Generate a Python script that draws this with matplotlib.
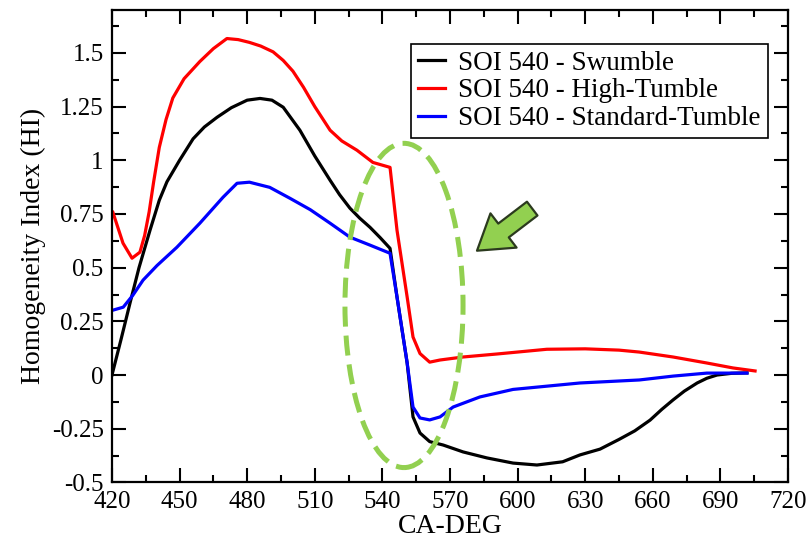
import matplotlib
matplotlib.use("Agg")
import matplotlib.pyplot as plt
from matplotlib.patches import Ellipse, FancyArrowPatch, ArrowStyle
from matplotlib.ticker import MultipleLocator, FormatStrFormatter

plt.rcParams["font.family"] = ["Liberation Serif", "DejaVu Serif"]
plt.rcParams["axes.unicode_minus"] = False

# Swumble case
swumble_x = [420, 424, 428, 432, 436.9, 441, 444.4, 450, 456, 461, 466.6, 473, 480, 485.7,
             491, 496, 503.4, 510, 516.8, 521, 525.6, 530, 534.5, 539, 543.4, 546.5, 551,
             553.6, 556.7, 561, 567, 575.8, 586.4, 598, 608.6, 620, 627.7, 636.6, 645,
             652, 658.8, 664, 669, 674, 679.7, 684, 688.5, 695, 701.8]
swumble_y = [0.0, 0.165, 0.335, 0.5, 0.675, 0.814, 0.9, 1.0, 1.1, 1.155, 1.2, 1.245, 1.28,
             1.288, 1.28, 1.247, 1.14, 1.02, 0.907, 0.84, 0.777, 0.73, 0.688, 0.64, 0.59,
             0.363, 0.056, -0.195, -0.27, -0.31, -0.326, -0.358, -0.386, -0.41, -0.419,
             -0.404, -0.372, -0.345, -0.3, -0.26, -0.21, -0.16, -0.116, -0.075, -0.037,
             -0.015, 0.0, 0.008, 0.01]

# High-tumble case
high_x = [420.4, 424.9, 428.9, 432.4, 434.5, 436.5, 438.5, 441, 444, 447, 452, 459, 465,
          471, 476, 481, 486, 491.5, 496, 500.3, 505, 510, 516.8, 522, 528.7, 535.8,
          543.4, 546.5, 551, 553.6, 556.7, 561, 565.6, 575.8, 590.9, 613, 630, 645,
          654, 669, 684, 695.6, 705.4]
high_y = [0.758, 0.614, 0.544, 0.572, 0.65, 0.76, 0.9, 1.06, 1.19, 1.29, 1.38, 1.46, 1.52,
          1.567, 1.562, 1.549, 1.532, 1.505, 1.465, 1.415, 1.34, 1.25, 1.14, 1.09, 1.047,
          0.99, 0.967, 0.674, 0.363, 0.177, 0.1, 0.06, 0.07, 0.084, 0.098, 0.12, 0.122,
          0.116, 0.107, 0.084, 0.056, 0.033, 0.019]

# Standard-tumble case
std_x = [420.4, 425, 429.3, 433.8, 440, 448.8, 459, 469.3, 475.5, 481, 490, 499,
         508, 516.8, 525.6, 534.5, 543.4, 546.5, 551, 553.6, 556.7, 561, 565.6,
         571.4, 583.3, 598, 627.7, 654, 669, 684, 701.8]
std_y = [0.302, 0.316, 0.372, 0.442, 0.51, 0.595, 0.707, 0.828, 0.893, 0.898, 0.874, 0.823,
         0.77, 0.707, 0.642, 0.605, 0.567, 0.363, 0.056, -0.149, -0.2, -0.209, -0.195,
         -0.149, -0.102, -0.067, -0.037, -0.023, -0.005, 0.009, 0.009]

series_labels = ["SOI 540 - Swumble", "SOI 540 - High-Tumble", "SOI 540 - Standard-Tumble"]
series_colors = ["black", "red", "blue"]

fig = plt.figure(figsize=(8.12, 5.39), dpi=100)
ax = fig.add_axes([0.1379, 0.105, 0.8325, 0.8765])

for xs, ys, lab, col in zip([swumble_x, high_x, std_x], [swumble_y, high_y, std_y],
                            series_labels, series_colors):
    ax.plot(xs, ys, color=col, lw=2.3, label=lab, solid_joinstyle="round")

ax.set_xlim(420, 720)
ax.set_ylim(-0.5, 1.7)
ax.xaxis.set_major_locator(MultipleLocator(30))
ax.xaxis.set_minor_locator(MultipleLocator(15))
ax.yaxis.set_major_locator(MultipleLocator(0.25))
ax.yaxis.set_minor_locator(MultipleLocator(0.125))
ax.yaxis.set_major_formatter(FormatStrFormatter("%g"))

ax.tick_params(which="both", direction="in", top=True, right=True, width=1.5,
               labelsize=18)
ax.tick_params(which="major", length=10, pad=6)
ax.tick_params(which="minor", length=5)
for s in ax.spines.values():
    s.set_linewidth(1.6)

ax.set_xlabel("CA-DEG", fontsize=20, labelpad=1)
ax.set_ylabel("Homogeneity Index (HI)", fontsize=20, labelpad=4)

# highlight of the steep drop region
ring = Ellipse((549.6, 0.324), width=52.4, height=1.51, fill=False,
               edgecolor="#92D050", lw=3.6, linestyle=(0, (4, 1.8)), zorder=5)
ax.add_patch(ring)

pointer = FancyArrowPatch(posA=(606.5, 0.775), posB=(582, 0.579),
                          arrowstyle=ArrowStyle.Simple(head_length=24, head_width=31,
                                                       tail_width=12.5),
                          mutation_scale=1, shrinkA=0, shrinkB=0,
                          facecolor="#92D050", edgecolor="#2B3A1E", lw=1.6, zorder=6)
ax.add_patch(pointer)

leg = ax.legend(loc="upper right", bbox_to_anchor=(0.97, 0.928), borderaxespad=0,
                fontsize=19.5, frameon=True, fancybox=False, edgecolor="black",
                handlelength=1.0, handletextpad=0.5, labelspacing=0.1,
                borderpad=0.25, framealpha=1)
leg.get_frame().set_linewidth(1.2)

fig.savefig("out.png", dpi=100)
